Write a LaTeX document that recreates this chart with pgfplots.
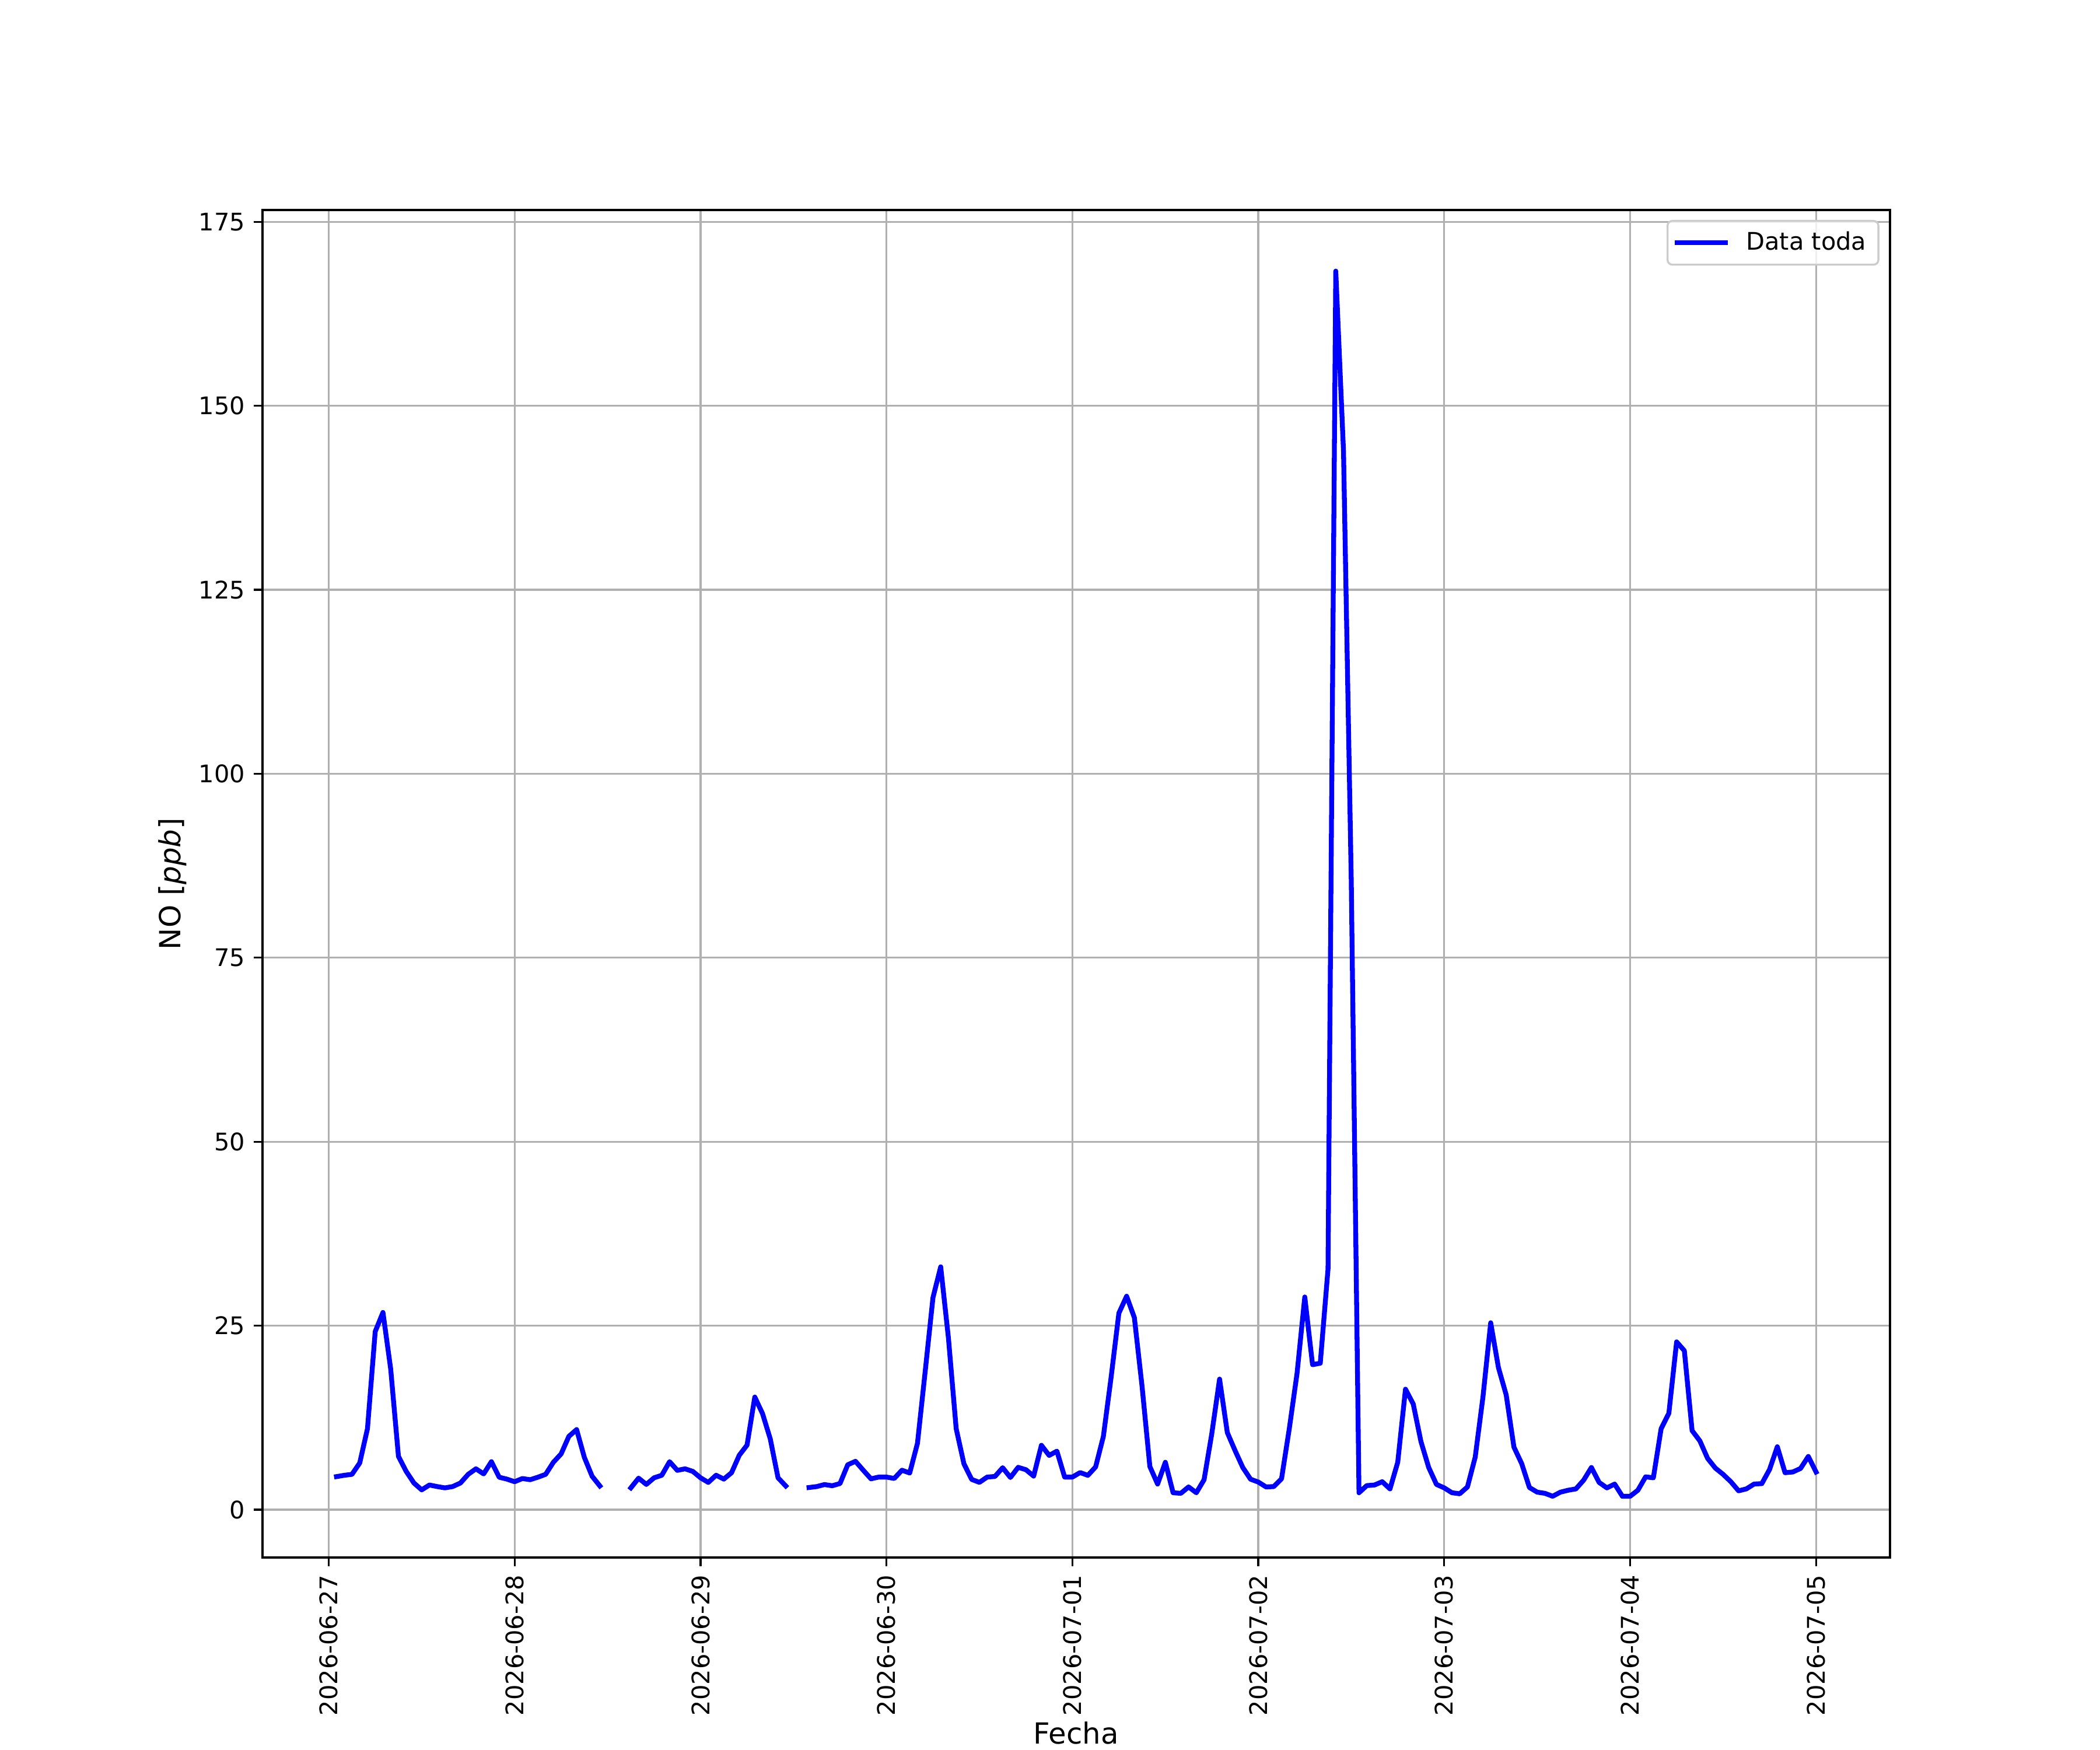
\documentclass[border=0pt]{standalone}
\usepackage{fontspec}
\setmainfont{DejaVu Sans}
\usepackage{pgfplots}
\pgfplotsset{compat=1.18}
\usepackage{pgfplotstable}
\definecolor{gridgray}{HTML}{B0B0B0}
\definecolor{legendedge}{HTML}{CCCCCC}
\pgfplotstableread{
h v
1 4.49
2 4.67
3 4.80
4 6.34
5 11.0
6 24.2
7 26.8
8 19.1
9 7.24
10 5.2
11 3.62
12 2.69
13 3.35
14 3.14
15 2.96
16 3.14
17 3.62
18 4.8
19 5.55
20 4.86
21 6.52
22 4.41
23 4.15
24 3.8
25 4.23
26 4.07
27 4.41
28 4.8
29 6.44
30 7.58
31 9.96
32 10.88
33 7.1
34 4.54
35 3.22
36 nan
37 nan
38 nan
39 2.96
40 4.28
41 3.43
42 4.33
43 4.68
44 6.52
45 5.34
46 5.55
47 5.2
48 4.33
49 3.70
50 4.68
51 4.15
52 5.02
53 7.40
54 8.77
55 15.3
56 13.05
57 9.61
58 4.33
59 3.22
60 nan
61 nan
62 3.01
63 3.14
64 3.41
65 3.25
66 3.55
67 6.1
68 6.57
69 5.36
70 4.19
71 4.43
72 4.43
73 4.24
74 5.36
75 4.98
76 9.01
77 18.8
78 28.8
79 33.0
80 23.3
81 11.0
82 6.23
83 4.11
84 3.71
85 4.43
86 4.51
87 5.7
88 4.37
89 5.75
90 5.43
91 4.56
92 8.75
93 7.37
94 7.95
95 4.43
96 4.43
97 5.04
98 4.66
99 5.81
100 9.95
101 18.0
102 26.7
103 29.0
104 26.1
105 16.7
106 5.86
107 3.48
108 6.44
109 2.30
110 2.22
111 3.09
112 2.30
113 4.07
114 10.35
115 17.74
116 10.48
117 8.03
118 5.73
119 4.14
120 3.75
121 3.09
122 3.14
123 4.2
124 11.0
125 18.5
126 28.9
127 19.7
128 19.9
129 32.7
130 168.3
131 143.8
132 85.5
133 2.3
134 3.27
135 3.35
136 3.80
137 2.82
138 6.44
139 16.37
140 14.36
141 9.24
142 5.73
143 3.43
144 2.96
145 2.30
146 2.16
147 3.09
148 7.13
149 15.3
150 25.4
151 19.3
152 15.6
153 8.5
154 6.26
155 3.01
156 2.38
157 2.22
158 1.82
159 2.38
160 2.64
161 2.82
162 4.01
163 5.73
164 3.70
165 2.96
166 3.48
167 1.82
168 1.82
169 2.64
170 4.46
171 4.33
172 11.0
173 13.1
174 22.8
175 21.6
176 10.74
177 9.35
178 6.97
179 5.65
180 4.80
181 3.80
182 2.56
183 2.82
184 3.48
185 3.54
186 5.46
187 8.55
188 5.02
189 5.12
190 5.60
191 7.23
192 5.12
}\datatable
\begin{document}
\begin{tikzpicture}
\path[use as bounding box] (0,0) rectangle (12in,10in);
\begin{axis}[
  at={(1.5in,1.1in)}, anchor=south west,
  scale only axis, width=9.3in, height=7.7in,
  xmin=-8.55, xmax=201.55, ymin=-6.5, ymax=176.6,
  unbounded coords=jump,
  axis line style={black, line width=0.8pt},
  tick style={black, line width=0.8pt},
  tick align=outside, major tick length=3.5pt,
  xtick pos=bottom, ytick pos=left,
  grid=major, grid style={gridgray, line width=0.8pt},
  xtick={0,24,48,72,96,120,144,168,192},
  xticklabels={2026-06-27,2026-06-28,2026-06-29,2026-06-30,2026-07-01,2026-07-02,2026-07-03,2026-07-04,2026-07-05},
  ytick={0,25,50,75,100,125,150,175},
  /pgf/number format/assume math mode=true,
  ticklabel style={font=\fontsize{10}{12}\selectfont},
  yticklabel style={anchor=east, inner sep=0pt, xshift=-3.5pt},
  xticklabel style={yshift=-3.5pt, rotate=90, anchor=east, inner sep=0pt},
  xlabel={Fecha}, ylabel={NO [\textit{ppb}]},
  every axis x label/.style={at={(ticklabel cs:0.5)}, anchor=near ticklabel, inner sep=0pt, outer sep=2.5pt, font=\fontsize{12}{14}\selectfont},
  every axis y label/.style={at={(ticklabel cs:0.5)}, rotate=90, anchor=near ticklabel, inner sep=0pt, outer sep=5pt, font=\fontsize{12}{14}\selectfont},
  legend style={at={(1,1)}, anchor=north east, xshift=-4.8pt, yshift=-4.5pt, outer sep=0pt,
    draw=legendedge, line width=0.8pt, rounded corners=2pt, fill=white, fill opacity=0.8, text opacity=1,
    font=\fontsize{10}{12}\selectfont, inner xsep=3pt, inner ysep=2.5pt},
  legend cell align=left,
  legend image code/.code={\draw[#1, line cap=rect] (0pt,0pt) -- (20pt,0pt); \path (25.5pt,0pt);},
]
\addplot[blue, line width=2pt, line cap=rect, line join=round] table[x=h, y=v] {\datatable};
\addlegendentry{Data toda}
\end{axis}
\end{tikzpicture}
\end{document}
